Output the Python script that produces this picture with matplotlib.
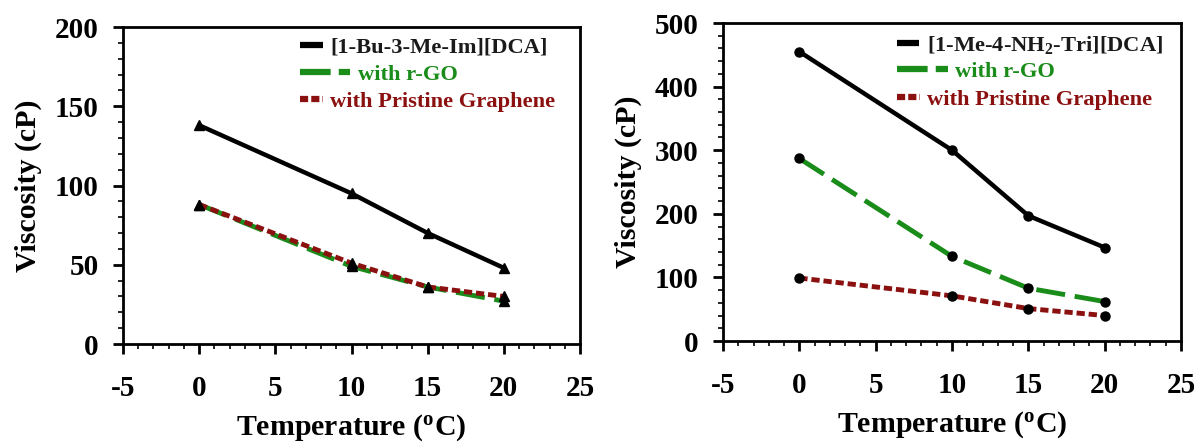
import matplotlib
matplotlib.use("Agg")
import matplotlib.pyplot as plt
from matplotlib.ticker import MultipleLocator
from matplotlib.lines import Line2D

plt.rcParams['font.family'] = ['Liberation Serif', 'DejaVu Serif']
plt.rcParams['font.weight'] = 'bold'
plt.rcParams['mathtext.fontset'] = 'custom'
plt.rcParams['mathtext.rm'] = 'Liberation Serif:bold'
plt.rcParams['mathtext.it'] = 'Liberation Serif:bold'
plt.rcParams['mathtext.bf'] = 'Liberation Serif:bold'
plt.rcParams['mathtext.default'] = 'rm'
plt.rcParams['axes.unicode_minus'] = False

temps = [0, 10, 15, 20]

left_il = [138, 95, 70, 48]
left_rgo = [88, 49, 36, 27]
left_pg = [88, 51, 36, 30]

right_il = [455, 300, 197, 147]
right_rgo = [287, 133, 83, 62]
right_pg = [99, 71, 51, 40]

left_labels = ["[1-Bu-3-Me-Im][DCA]", "with r-GO", "with Pristine Graphene"]
right_labels = [r"[1-Me-4-NH$_2$-Tri][DCA]", "with r-GO", "with Pristine Graphene"]

GREEN = "#1a8c1a"
RED = "#8b1010"
BLACK_TXT = "#1a1a1a"

W, H = 1194, 448
fig = plt.figure(figsize=(W / 100, H / 100), dpi=100)
ax1 = fig.add_axes([123 / W, 1 - 344 / H, (580 - 123) / W, (344 - 27) / H])
ax2 = fig.add_axes([723 / W, 1 - 341 / H, (1181 - 723) / W, (341 - 23) / H])

DASH = (0, (6, 2))
DOT = (0, (1.7, 0.8))


def style(ax, ymax, ymajor, yminor):
    ax.set_xlim(-5, 25)
    ax.set_ylim(0, ymax)
    ax.xaxis.set_major_locator(MultipleLocator(5))
    ax.xaxis.set_minor_locator(MultipleLocator(1))
    ax.yaxis.set_major_locator(MultipleLocator(ymajor))
    ax.yaxis.set_minor_locator(MultipleLocator(yminor))
    ax.tick_params(axis='both', which='major', direction='out', length=7.5, width=2,
                   labelsize=21)
    ax.tick_params(axis='both', which='minor', direction='out', length=3.8, width=1.2)
    ax.tick_params(axis='x', which='major', pad=15)
    ax.tick_params(axis='y', which='major', pad=10)
    for lab in ax.get_xticklabels() + ax.get_yticklabels():
        lab.set_fontweight('bold')
    for s in ax.spines.values():
        s.set_linewidth(2)
    ax.set_xlabel(r"Temperature ($\mathregular{^o}$C)", fontsize=21.5, fontweight='bold',
                  labelpad=7)
    ax.set_ylabel("Viscosity (cP)", fontsize=21.5, fontweight='bold', labelpad=9)


def fig_xy(px, py):
    return px / W, 1 - py / H


def legend_row(x0, x1, xt, y, ls, color, label, tcolor):
    fx0, fy = fig_xy(x0, y)
    fx1, _ = fig_xy(x1, y)
    fig.add_artist(Line2D([fx0, fx1], [fy, fy], transform=fig.transFigure,
                          color=color, lw=4.5, ls=ls, solid_capstyle='butt',
                          dash_capstyle='butt'))
    ftx, fty = fig_xy(xt, y)
    fig.text(ftx, fty, label, color=tcolor, fontsize=16.2, fontweight='bold',
             ha='left', va='center_baseline')


def plot_panel(ax, il, rgo, pg, marker, ms):
    ax.plot(temps, il, color='black', lw=3.2, marker=marker, ms=ms, mfc='black', mec='black')
    ax.plot(temps, rgo, color=GREEN, lw=3.5, ls=DASH, marker=marker, ms=ms,
            mfc='black', mec='black')
    ax.plot(temps, pg, color=RED, lw=3.5, ls=DOT, marker=marker, ms=ms,
            mfc='black', mec='black')


plot_panel(ax1, left_il, left_rgo, left_pg, '^', 6.5)
plot_panel(ax2, right_il, right_rgo, right_pg, 'o', 6.5)
style(ax1, 200, 50, 10)
style(ax2, 500, 100, 20)

# legends (drawn manually to reproduce differing handle lengths)
legend_row(300, 323, 330, 45, '-', 'black', left_labels[0], BLACK_TXT)
legend_row(300, 350, 358, 72, (0, (4.9, 1.3)), GREEN, left_labels[1], GREEN)
legend_row(300, 323, 330, 99, (0, (1.3, 0.5)), RED, left_labels[2], RED)

legend_row(897, 919, 927, 43, '-', 'black', right_labels[0], BLACK_TXT)
legend_row(897, 948, 955, 69, (0, (4.9, 1.3)), GREEN, right_labels[1], GREEN)
legend_row(897, 920, 927, 97, (0, (1.3, 0.5)), RED, right_labels[2], RED)

fig.savefig("out.png", dpi=100)
